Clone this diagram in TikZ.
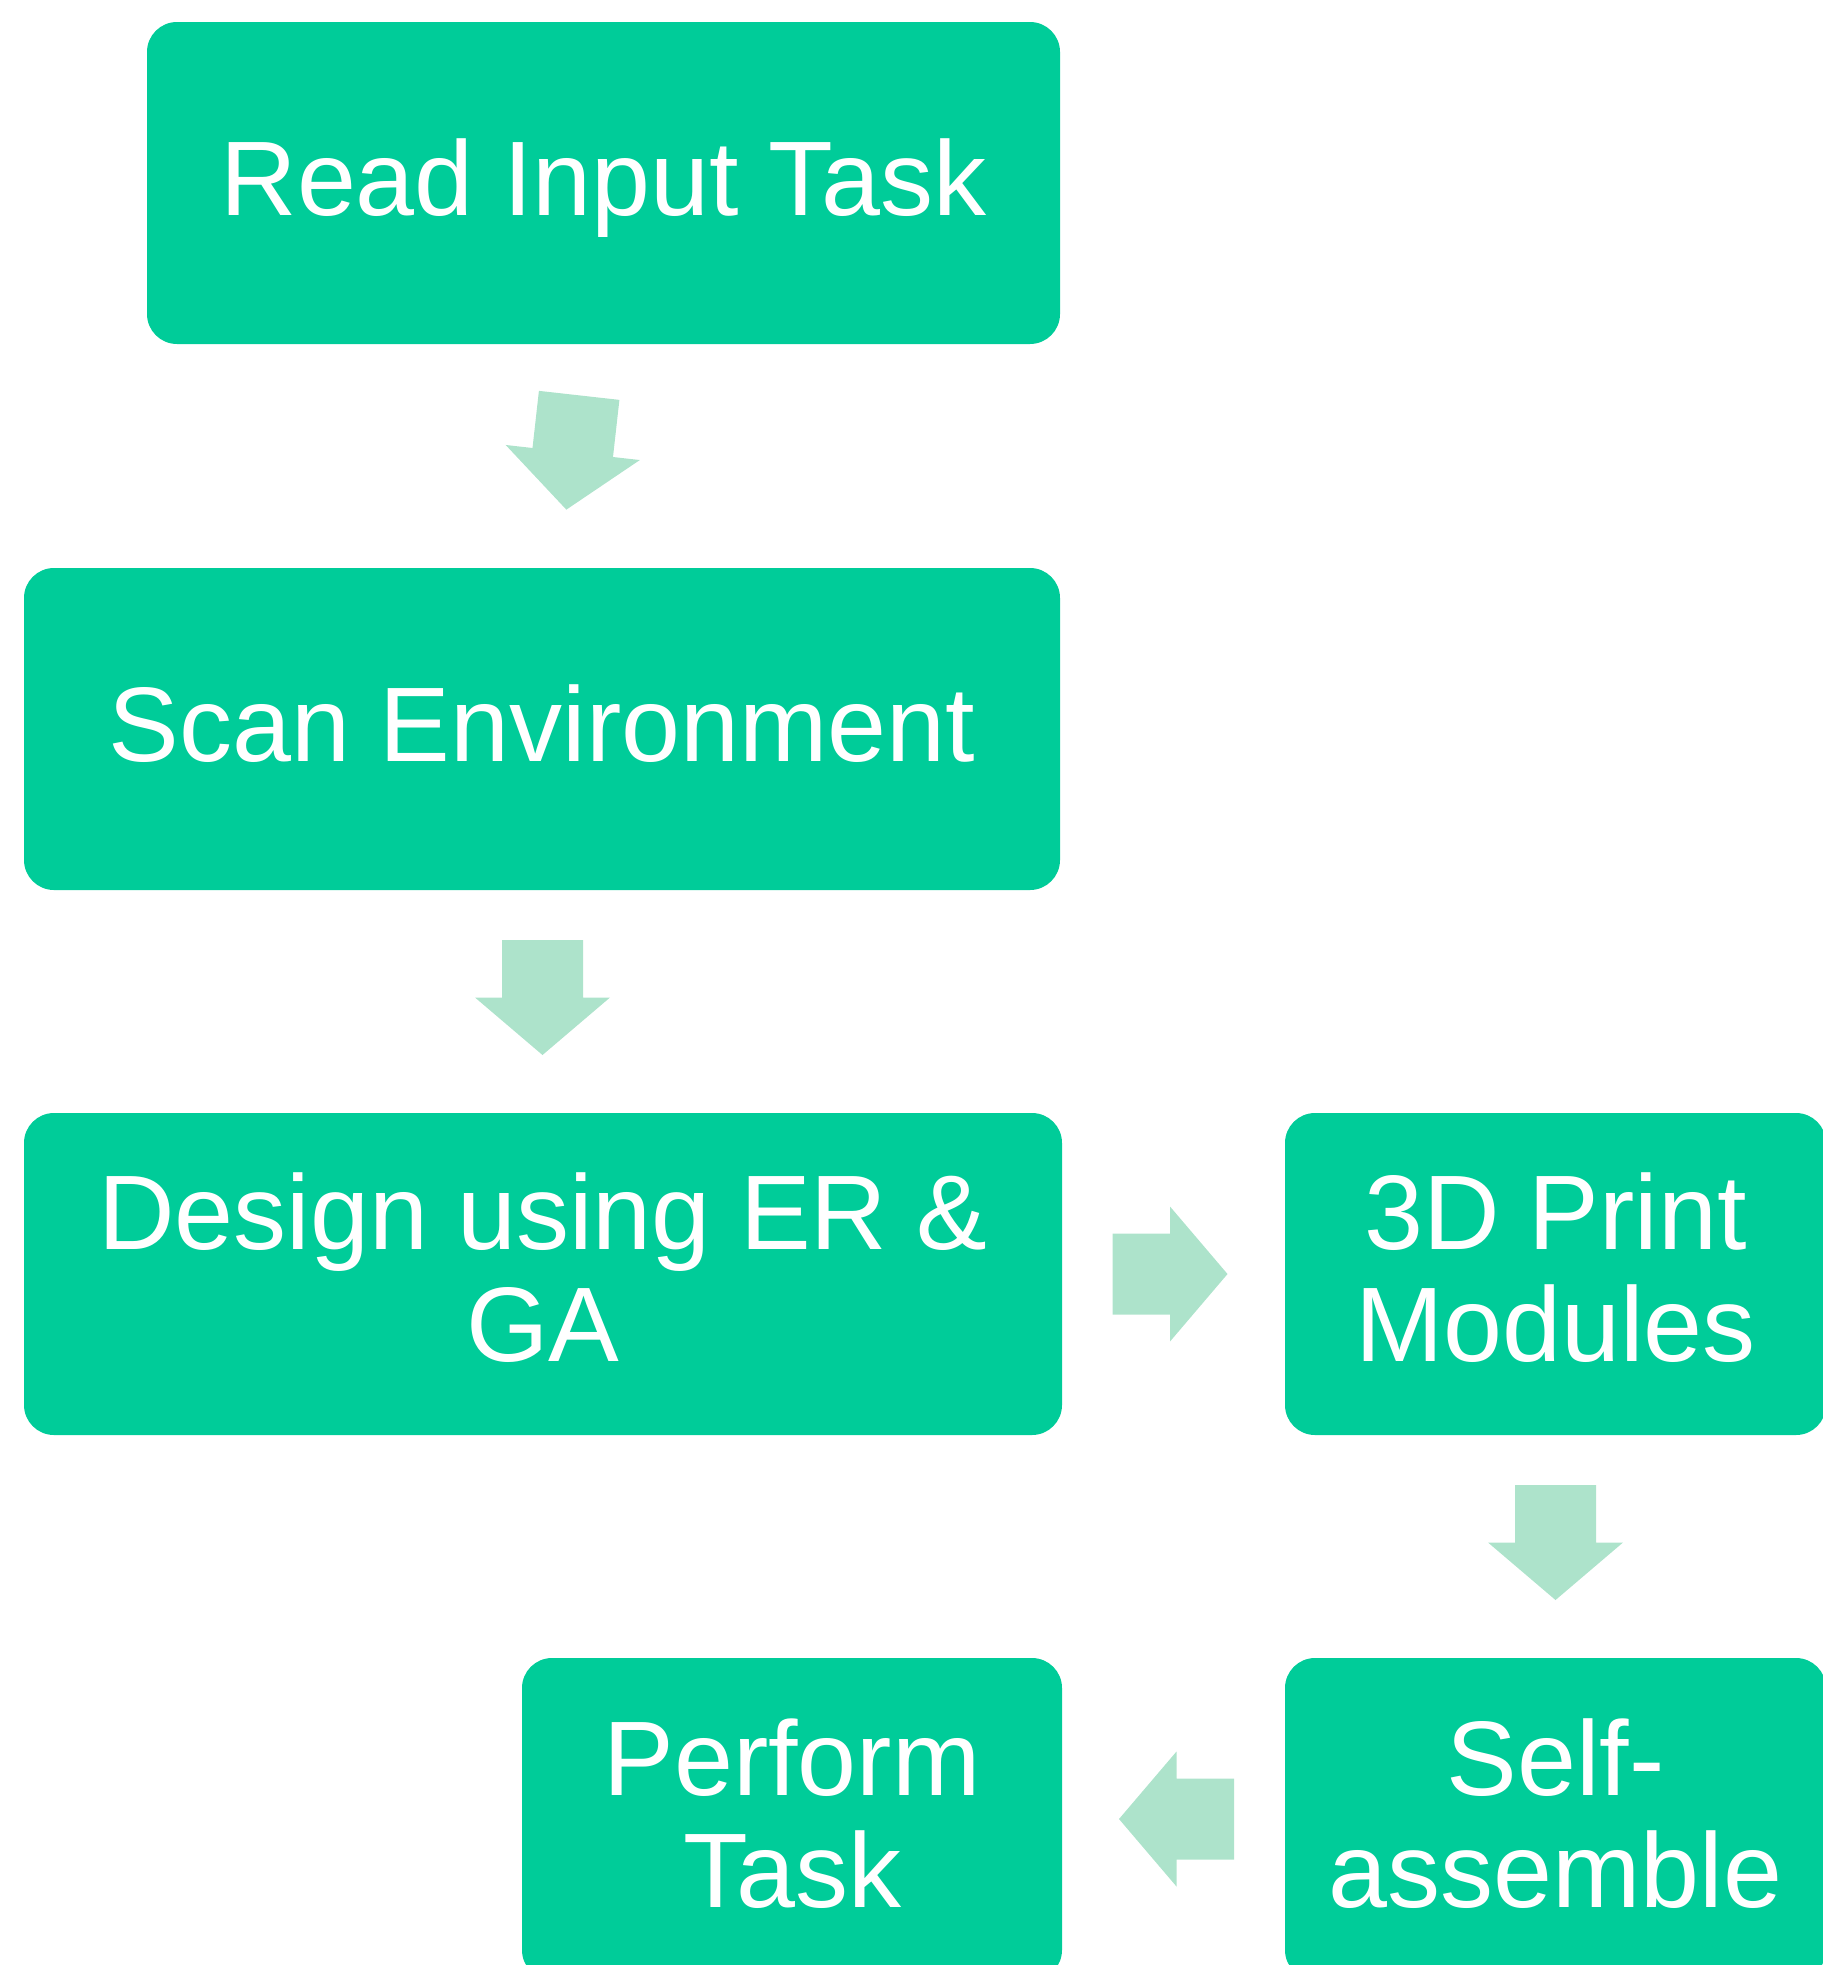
\documentclass[tikz,border=0pt]{standalone}
\usepackage{fontspec}
\setmainfont{Liberation Sans}
\usetikzlibrary{calc}
\definecolor{boxgreen}{HTML}{00CC99}
\definecolor{arrowgreen}{HTML}{ADE3CB}
\newcommand\blockarrow[2]{%
  \fill[arrowgreen, shift={#1}, rotate=#2]
    (-57.5,-40.5) -- (0,-40.5) -- (0,-67.5) -- (57.5,0) -- (0,67.5) -- (0,40.5) -- (-57.5,40.5) -- cycle;}
\begin{document}
\begin{tikzpicture}[x=0.5pt,y=-0.5pt,
  box/.style={rectangle, fill=boxgreen, rounded corners=15pt, inner sep=0pt, minimum height=161pt},
  txt/.style={text=white, font=\fontsize{53}{56}\selectfont, inner sep=0pt, anchor=base}]
\useasboundingbox (0,0) rectangle (1823,1965);
\clip (0,0) rectangle (1823,1965);
% boxes
\node[box, minimum width=456.5pt] (b1) at (603.5,183) {};
\node[box, minimum width=518pt]   (b2) at (542,729) {};
\node[box, minimum width=519pt]   (b3) at (543,1274) {};
\node[box, minimum width=270.5pt] (b4) at (1555.5,1274) {};
\node[box, minimum width=270.5pt] (b5) at (1555.5,1819) {};
\node[box, minimum width=270pt]   (b6) at (792,1819) {};
% texts
\node[txt] (t1) at ($(b1.center)+(0,32)$) {Read Input Task};
\node[txt] (t2) at ($(b2.center)+(0,32)$) {Scan Environment};
\node[txt] (t3) at ($(b3.center)+(0,-25)$) {\begin{tabular}[t]{@{}c@{}}Design using ER \&\\GA\end{tabular}};
\node[txt] (t4) at ($(b4.center)+(0,-25)$) {\begin{tabular}[t]{@{}c@{}}3D Print\\Modules\end{tabular}};
\node[txt] (t5) at ($(b5.center)+(0,-24)$) {\begin{tabular}[t]{@{}c@{}}Self-\\assemble\end{tabular}};
\node[txt] (t6) at ($(b6.center)+(0,-24)$) {\begin{tabular}[t]{@{}c@{}}Perform\\Task\end{tabular}};
% block arrows
\blockarrow{($(b1.south)!0.5!(b2.north)+(0,-3.5)$)}{-96.4}
\blockarrow{($(b2.south)!0.5!(b3.north)+(0,-4)$)}{-90}
\blockarrow{($(b3.east)!0.5!(b4.west)+(-3.5,0)$)}{0}
\blockarrow{($(b4.south)!0.5!(b5.north)+(0,-4)$)}{-90}
\blockarrow{($(b6.east)!0.5!(b5.west)+(3,0)$)}{180}
\end{tikzpicture}
\end{document}
